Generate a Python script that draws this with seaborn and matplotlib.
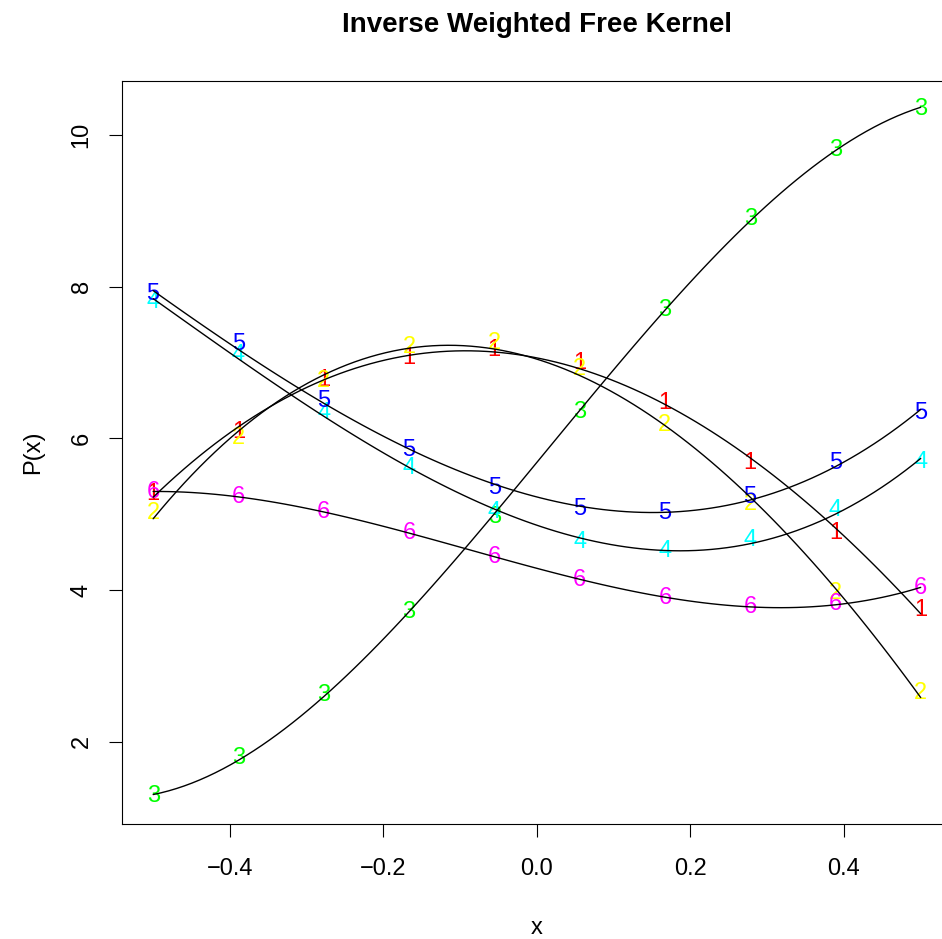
import numpy as np
import pandas as pd
import matplotlib
matplotlib.use("Agg")
import matplotlib.pyplot as plt
import seaborn as sns

sns.set_theme(style="white")
plt.rcParams['font.family'] = ['Liberation Sans', 'DejaVu Sans']
plt.rcParams['text.color'] = 'black'
plt.rcParams['axes.labelcolor'] = 'black'
plt.rcParams['xtick.color'] = 'black'
plt.rcParams['ytick.color'] = 'black'

# valores
x_vals = [-0.5, -0.3889, -0.2778, -0.1667, -0.0556, 0.0556, 0.1667, 0.2778, 0.3889, 0.5]
serie_1 = [5.27, 6.09, 6.77, 7.06, 7.17, 7.00, 6.47, 5.68, 4.76, 3.74]
serie_2 = [5.02, 6.00, 6.76, 7.21, 7.26, 6.91, 6.18, 5.13, 3.96, 2.65]
serie_3 = [1.28, 1.79, 2.62, 3.71, 4.97, 6.35, 7.70, 8.89, 9.81, 10.35]
serie_4 = [7.80, 7.10, 6.34, 5.61, 5.03, 4.64, 4.51, 4.66, 5.06, 5.69]
serie_5 = [7.90, 7.24, 6.50, 5.85, 5.35, 5.07, 5.02, 5.23, 5.68, 6.34]
serie_6 = [5.30, 5.23, 5.03, 4.76, 4.44, 4.14, 3.90, 3.78, 3.82, 4.03]
rotulos = ["1", "2", "3", "4", "5", "6"]
cores = ["#FF0000", "#FFFF00", "#00FF00", "#00FFFF", "#0000FF", "#FF00FF"]

series = [serie_1, serie_2, serie_3, serie_4, serie_5, serie_6]
df = pd.concat(
    [pd.DataFrame({"x": x_vals, "y": s, "serie": r}) for s, r in zip(series, rotulos)],
    ignore_index=True,
)

fig = plt.figure(figsize=(9.42, 9.39), dpi=100)
# a caixa do grafico passa da borda direita da imagem, como no original
ax = fig.add_axes([0.130, 0.1225, 0.880, 0.7912])

# pontos como numeros
for rotulo, cor in zip(rotulos, cores):
    sub = df[df["serie"] == rotulo]
    for xv, yv in zip(sub["x"], sub["y"]):
        ax.text(xv, yv, rotulo, color=cor, fontsize=17, ha="center", va="center", zorder=2)

# curvas suavizadas (ajuste polinomial)
for rotulo in rotulos:
    sub = df[df["serie"] == rotulo]
    sns.regplot(data=sub, x="x", y="y", order=3, scatter=False, ci=None, truncate=True,
                color="black", line_kws={"lw": 1.0, "zorder": 3}, ax=ax)

ax.set_xlim(-0.54, 0.54)
ymin, ymax = df["y"].min(), df["y"].max()
pad = (ymax - ymin) * 0.04
ax.set_ylim(ymin - pad, ymax + pad)

ax.set_xticks([-0.4, -0.2, 0.0, 0.2, 0.4])
ax.set_xticklabels(["\u22120.4", "\u22120.2", "0.0", "0.2", "0.4"])
ax.set_yticks([2, 4, 6, 8, 10])
ax.tick_params(axis="both", which="major", direction="out", length=9.4, width=0.8,
               color="black", labelsize=17, bottom=True, left=True)
ax.tick_params(axis="x", pad=15)
ax.tick_params(axis="y", pad=12)
plt.setp(ax.get_yticklabels(), rotation=90, va="center")

for sp in ax.spines.values():
    sp.set_color("black")
    sp.set_linewidth(0.8)

ax.set_xlabel("x", fontsize=17, labelpad=27)
ax.set_ylabel("P(x)", fontsize=17, labelpad=19)
ax.set_title("Inverse Weighted Free Kernel", fontsize=20, fontweight="bold", pad=35)
ax.grid(False)

fig.savefig("out.png", dpi=100, facecolor="white")
